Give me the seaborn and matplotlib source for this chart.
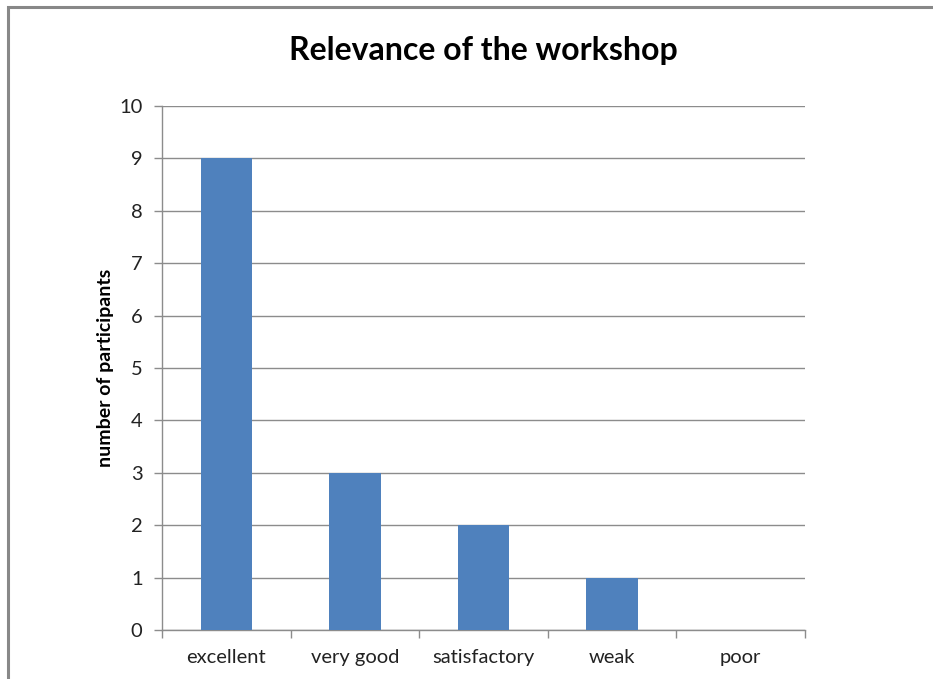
import numpy as np
import pandas as pd
import matplotlib
matplotlib.use("Agg")
import matplotlib.pyplot as plt
from matplotlib.patches import Rectangle
import seaborn as sns

# data
categories = ["excellent", "very good", "satisfactory", "weak", "poor"]
participants = [9, 3, 2, 1, 0]
y_ticks = list(range(0, 11))

sns.set_style("white")
plt.rcParams["font.family"] = ["Lato", "DejaVu Sans"]

df = pd.DataFrame({"rating": categories, "count": participants})

fig = plt.figure(figsize=(9.33, 6.79), dpi=100)
ax = fig.add_axes([0.1736, 0.0722, 0.6892, 0.7717])

sns.barplot(data=df, x="rating", y="count", order=categories, color="#4F81BD",
            saturation=1, width=0.4, linewidth=0, ax=ax, zorder=3)

ax.set_xlim(-0.5, len(categories) - 0.5)
ax.set_ylim(0, 10)
ax.set_yticks(y_ticks)
ax.yaxis.grid(True, color="#8c8c8c", linewidth=1, zorder=0)
ax.set_axisbelow(True)

# excel-style ticks: labels centred, marks on category boundaries
ax.set_xticks(np.arange(len(categories)))
ax.set_xticklabels(categories)
ax.set_xticks(np.arange(-0.5, len(categories)), minor=True)
ax.tick_params(axis="x", which="major", bottom=True, length=0, pad=14,
               labelsize=14.5, colors="#222222")
ax.tick_params(axis="x", which="minor", bottom=True, length=6, width=1,
               color="#8c8c8c", direction="out")
ax.tick_params(axis="y", left=True, length=6, width=1, color="#8c8c8c", direction="out",
               labelsize=14.5, labelcolor="#222222", pad=8)

for side in ["top", "right"]:
    ax.spines[side].set_visible(False)
for side in ["left", "bottom"]:
    ax.spines[side].set_color("#8c8c8c")
    ax.spines[side].set_linewidth(1)

ax.set_xlabel("")
ax.set_ylabel("number of participants", fontsize=14, fontweight="bold",
              labelpad=4, color="black")

fig.text(0.518, 0.925, "Relevance of the workshop", ha="center", va="center",
         fontsize=23, fontweight="bold", color="black")

# chart border (runs off the right and bottom edges like the screenshot)
fig.patches.append(Rectangle((8 / 933, -0.05), 1.2, 1.05 - 7 / 679,
                             transform=fig.transFigure, fill=False,
                             edgecolor="#888888", linewidth=2.2))

fig.savefig("out.png", dpi=100)
